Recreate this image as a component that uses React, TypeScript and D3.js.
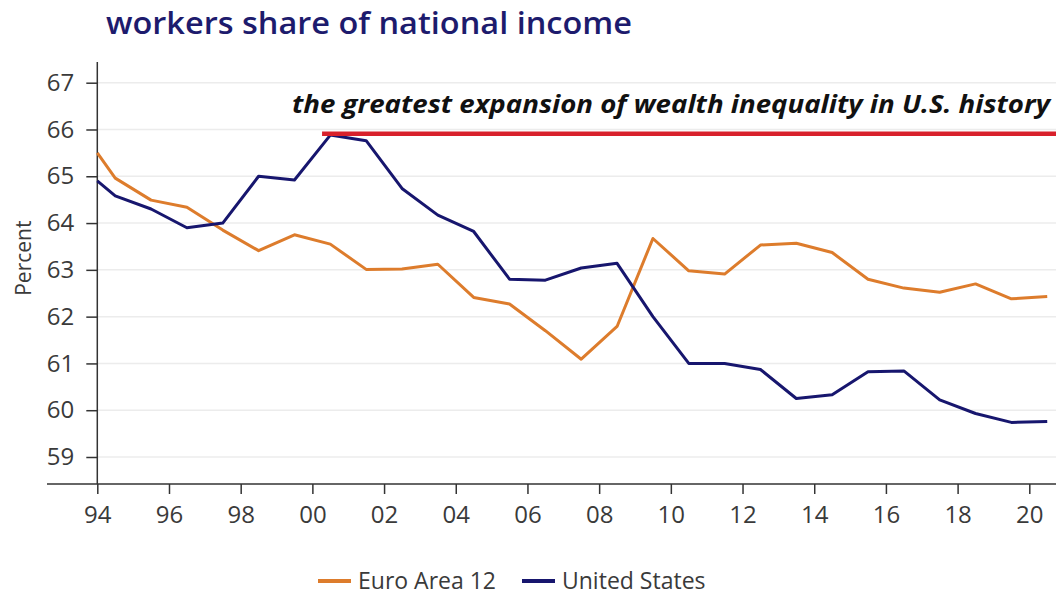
import * as d3 from 'd3'
import { useRef, useEffect } from 'react'

// x positions in years (first point sits on the axis start, then mid-year values)
const years = [1994, 1994.5, 1995.5, 1996.5, 1997.5, 1998.5, 1999.5, 2000.5, 2001.5, 2002.5, 2003.5, 2004.5, 2005.5, 2006.5, 2007.5, 2008.5, 2009.5, 2010.5, 2011.5, 2012.5, 2013.5, 2014.5, 2015.5, 2016.5, 2017.5, 2018.5, 2019.5, 2020.5]
const euroArea = [65.5, 64.96, 64.49, 64.34, 63.85, 63.41, 63.75, 63.55, 63.01, 63.02, 63.12, 62.41, 62.27, 61.7, 61.09, 61.79, 63.67, 62.98, 62.91, 63.53, 63.57, 63.37, 62.8, 62.61, 62.52, 62.7, 62.38, 62.43]
const unitedStates = [64.9, 64.58, 64.3, 63.9, 64.0, 65.0, 64.92, 65.88, 65.76, 64.74, 64.17, 63.82, 62.8, 62.78, 63.04, 63.14, 62.0, 61.0, 61.0, 60.87, 60.25, 60.33, 60.82, 60.84, 60.22, 59.93, 59.74, 59.76]
const xTicks = [1994, 1996, 1998, 2000, 2002, 2004, 2006, 2008, 2010, 2012, 2014, 2016, 2018, 2020]
const yTicks = [59, 60, 61, 62, 63, 64, 65, 66, 67]
const annoStart = 2000.27
const annoValue = 65.91

const W = 1056
const H = 596
const ORANGE = '#dd7c2c'
const NAVY = '#17166e'
const FONT = "'Open Sans', 'Noto Sans', sans-serif"

export default function App() {
  const svgRef = useRef<SVGSVGElement>(null)

  useEffect((): void => {
    const svg = d3.select(svgRef.current)
    svg.selectAll('*').remove()

    const x = d3.scaleLinear().domain([1994, 2020]).range([97.3, 1029.3])
    const y = d3.scaleLinear().domain([59, 67]).range([457, 82.7])
    const axisY = 484

    svg.append('rect').attr('width', W).attr('height', H).attr('fill', '#fff')

    // gridlines
    svg.append('g')
      .selectAll('line')
      .data(yTicks)
      .enter()
      .append('line')
      .attr('x1', x(1994)).attr('x2', W)
      .attr('y1', d => y(d)).attr('y2', d => y(d))
      .attr('stroke', '#ececec').attr('stroke-width', 1.5)

    // y axis
    const yAxis = d3.axisLeft(y).tickValues(yTicks).tickSize(11).tickPadding(12)
    const gy = svg.append('g').attr('transform', `translate(${x(1994)},0)`).call(yAxis)
    gy.select('.domain').remove()
    gy.selectAll('line').attr('stroke', '#333').attr('stroke-width', 1.5)
    gy.selectAll('text').attr('font-family', FONT).attr('font-size', 24).attr('fill', '#3a3a3a')
    svg.append('line')
      .attr('x1', x(1994)).attr('x2', x(1994)).attr('y1', 62).attr('y2', axisY)
      .attr('stroke', '#333').attr('stroke-width', 1.5)

    // x axis
    const xAxis = d3.axisBottom(x).tickValues(xTicks).tickSize(10).tickPadding(12)
      .tickFormat(d => String(+d % 100).padStart(2, '0'))
    const gx = svg.append('g').attr('transform', `translate(0,${axisY})`).call(xAxis)
    gx.select('.domain').remove()
    gx.selectAll('line').attr('stroke', '#333').attr('stroke-width', 1.5)
    gx.selectAll('text').attr('font-family', FONT).attr('font-size', 24).attr('fill', '#3a3a3a')
    svg.append('line')
      .attr('x1', 47).attr('x2', W).attr('y1', axisY).attr('y2', axisY)
      .attr('stroke', '#333').attr('stroke-width', 1.5)

    // y label
    svg.append('text')
      .attr('transform', `translate(31,${y(63.25)}) rotate(-90)`)
      .attr('text-anchor', 'middle')
      .attr('font-family', FONT).attr('font-size', 21).attr('fill', '#3a3a3a')
      .text('Percent')

    // series
    const line = d3.line<number>()
      .x((d, i) => x(years[i]))
      .y(d => y(d))
    svg.append('path').datum(euroArea).attr('d', line)
      .attr('fill', 'none').attr('stroke', ORANGE).attr('stroke-width', 3).attr('stroke-linejoin', 'round')
    svg.append('path').datum(unitedStates).attr('d', line)
      .attr('fill', 'none').attr('stroke', NAVY).attr('stroke-width', 3).attr('stroke-linejoin', 'round')

    // annotation
    svg.append('line')
      .attr('x1', x(annoStart)).attr('x2', W)
      .attr('y1', y(annoValue)).attr('y2', y(annoValue))
      .attr('stroke', '#d8202b').attr('stroke-width', 4.5)
    svg.append('text')
      .attr('x', 292).attr('y', 113)
      .attr('font-family', FONT).attr('font-size', 25).attr('font-weight', 700).attr('font-style', 'italic')
      .attr('fill', '#111')
      .attr('textLength', 758).attr('lengthAdjust', 'spacingAndGlyphs')
      .text('the greatest expansion of wealth inequality in U.S. history')

    // title
    svg.append('text')
      .attr('x', 106).attr('y', 34)
      .attr('font-family', FONT).attr('font-size', 31).attr('font-weight', 600)
      .attr('fill', '#1d1b6d')
      .attr('textLength', 526).attr('lengthAdjust', 'spacingAndGlyphs')
      .text('workers share of national income')

    // legend
    const legend = [
      { label: 'Euro Area 12', color: ORANGE, x0: 318, tx: 358 },
      { label: 'United States', color: NAVY, x0: 522, tx: 562 },
    ]
    const lg = svg.append('g')
    legend.forEach(l => {
      lg.append('line').attr('x1', l.x0).attr('x2', l.x0 + 33).attr('y1', 581).attr('y2', 581)
        .attr('stroke', l.color).attr('stroke-width', 4)
      lg.append('text').attr('x', l.tx).attr('y', 589)
        .attr('font-family', FONT).attr('font-size', 23).attr('fill', '#3a3a3a')
        .text(l.label)
    })
  }, [])

  return <svg ref={svgRef} width={W} height={H} style={{ position: 'absolute', left: 0, top: 0 }}></svg>
}
